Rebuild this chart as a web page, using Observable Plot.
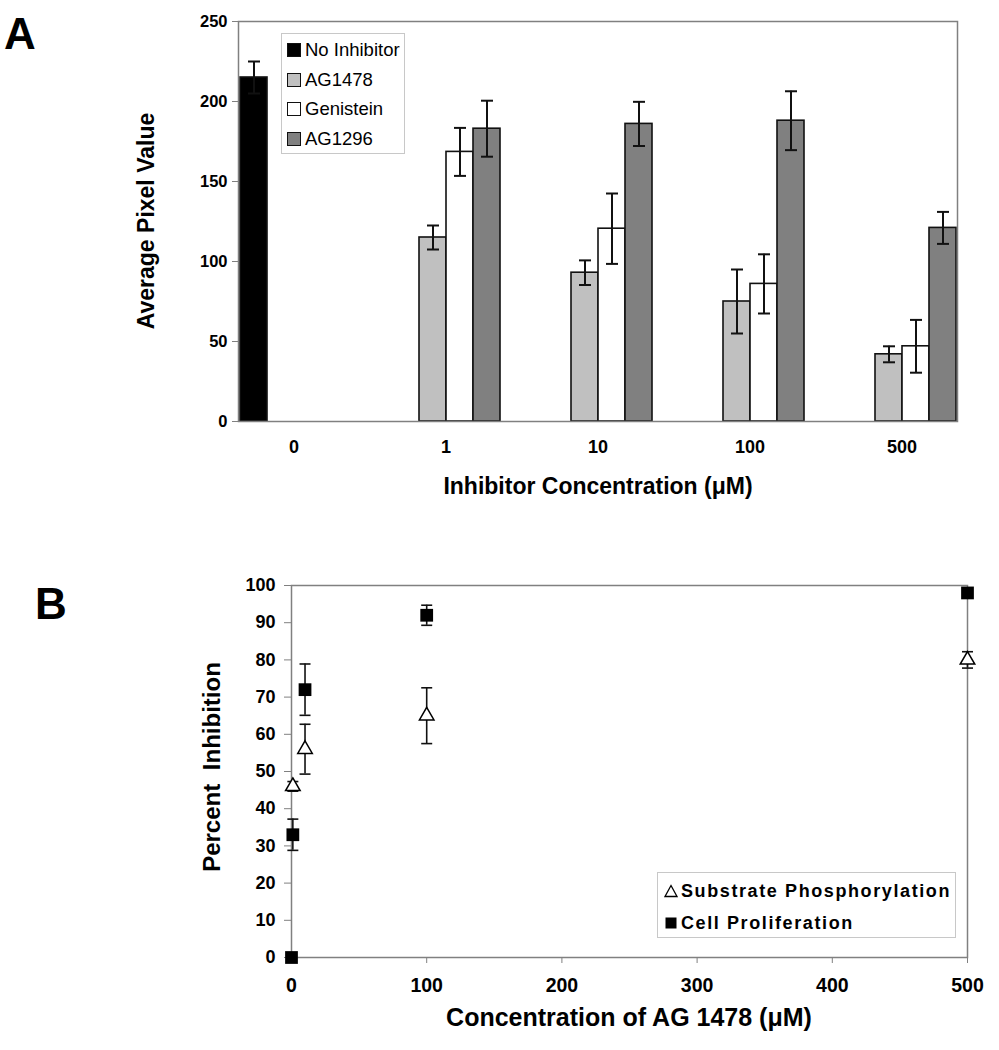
<!DOCTYPE html>
<html>
<head>
<meta charset="utf-8">
<script src="https://cdn.jsdelivr.net/npm/d3@7"></script>
<script src="https://cdn.jsdelivr.net/npm/@observablehq/plot@0.6"></script>
<style>
  body { margin: 0; background: #fff; }
  #page { position: relative; width: 999px; height: 1050px; background: #fff; font-family: "Liberation Sans", Arial, sans-serif; color: #000; }
  .abs { position: absolute; white-space: nowrap; }
  svg g[aria-label="y-axis tick"] path, svg g[aria-label="x-axis tick"] path { stroke: #808080; }
</style>
</head>
<body>
<div id="page">
  <div id="chartA" class="abs" style="left:0;top:0"></div>
  <div id="chartB" class="abs" style="left:0;top:520px"></div>

  <div class="abs" style="left:4px;top:9px;font-size:44px;font-weight:bold;">A</div>
  <div class="abs" style="left:35px;top:579px;font-size:44px;font-weight:bold;">B</div>

  <div class="abs" style="left:146px;top:221px;transform:translate(-50%,-50%) rotate(-90deg);font-size:23px;font-weight:bold;">Average Pixel Value</div>
  <div class="abs" style="left:598px;top:486px;transform:translate(-50%,-50%);font-size:23px;font-weight:bold;">Inhibitor Concentration (μM)</div>

  <div class="abs" style="left:212px;top:767px;transform:translate(-50%,-50%) rotate(-90deg);font-size:24px;font-weight:bold;word-spacing:7px;">Percent Inhibition</div>
  <div class="abs" style="left:629px;top:1017px;transform:translate(-50%,-50%);font-size:25px;font-weight:bold;">Concentration of AG 1478 (μM)</div>

  <div id="legendA" class="abs" style="left:281px;top:33px;width:122px;height:119px;border:1px solid #c8c8c8;background:#fff;font-size:18.5px;"></div>
  <div id="legendB" class="abs" style="left:657px;top:872px;width:297px;height:64px;border:1px solid #c8c8c8;background:#fff;font-size:18px;font-weight:bold;letter-spacing:1.6px;"></div>
</div>
<script>
// ---------- Panel A data ----------
const concentrations = ["0", "1", "10", "100", "500"];
const seriesNames = ["No Inhibitor", "AG1478", "Genistein", "AG1296"];
const seriesColors = ["#000000", "#c0c0c0", "#ffffff", "#808080"];
const noInhibitor = [215, null, null, null, null];
const noInhibitorErr = [10, null, null, null, null];
const ag1478 = [null, 115, 93, 75, 42];
const ag1478Err = [null, 7.5, 7.7, 20, 5];
const genistein = [null, 168.5, 120.5, 86, 47];
const genisteinErr = [null, 15, 22, 18.5, 16.5];
const ag1296 = [null, 183, 186, 188, 121];
const ag1296Err = [null, 17.5, 13.8, 18.4, 10];
const yTicksA = [0, 50, 100, 150, 200, 250];

// ---------- Panel B data ----------
const concB = [0, 1, 10, 100, 500];
const proliferation = [0, 33, 72, 92, 98];
const proliferationErr = [0, 4.2, 6.9, 2.7, 0.5];
const phosphorylation = [null, 46, 56, 65, 80];
const phosphorylationErr = [null, 1.3, 6.7, 7.5, 2.2];
const xTicksB = [0, 100, 200, 300, 400, 500];
const yTicksB = [0, 10, 20, 30, 40, 50, 60, 70, 80, 90, 100];

// ---------- build tables ----------
const seriesValues = [noInhibitor, ag1478, genistein, ag1296];
const seriesErrs = [noInhibitorErr, ag1478Err, genisteinErr, ag1296Err];
const rowsA = [];
seriesNames.forEach((s, k) => {
  concentrations.forEach((c, i) => {
    const v = seriesValues[k][i];
    if (v != null) rowsA.push({conc: c, series: s, value: v, err: seriesErrs[k][i]});
  });
});

const rowsB = [];
concB.forEach((c, i) => {
  rowsB.push({conc: c, type: "Cell Proliferation", value: proliferation[i], err: proliferationErr[i]});
  if (phosphorylation[i] != null) rowsB.push({conc: c, type: "Substrate Phosphorylation", value: phosphorylation[i], err: phosphorylationErr[i]});
});
const rowsBTri = rowsB.filter(d => d.type === "Substrate Phosphorylation");
const rowsBSq = rowsB.filter(d => d.type === "Cell Proliferation");

// horizontal cap symbol for error bars
const capSymbol = {
  draw(ctx, size) {
    const r = Math.sqrt(size / Math.PI);
    ctx.moveTo(-r, 0);
    ctx.lineTo(r, 0);
  }
};

const fontFam = "'Liberation Sans', Arial, sans-serif";

// ---------- Panel A ----------
const chartA = Plot.plot({
  width: 999,
  height: 510,
  marginLeft: 216,
  marginRight: 19,
  marginTop: 21,
  marginBottom: 89,
  style: {fontFamily: fontFam, background: "transparent", overflow: "visible"},
  fx: {domain: concentrations, paddingInner: 0.267, paddingOuter: 0.1335, label: null},
  x: {domain: seriesNames, padding: 0, axis: null},
  y: {domain: [0, 250], label: null},
  color: {domain: seriesNames, range: seriesColors},
  marks: [
    Plot.axisY({ticks: yTicksA, tickSize: 6, tickPadding: 5, fontSize: 16.5, fontWeight: "bold", label: null}),
    Plot.axisFx({anchor: "bottom", tickSize: 0, tickPadding: 19, fontSize: 18, fontWeight: "bold", label: null}),
    Plot.barY(rowsA, {fx: "conc", x: "series", y: "value", fill: "series", stroke: "#111", strokeWidth: 1.6}),
    Plot.ruleX(rowsA, {fx: "conc", x: "series", y1: d => d.value - d.err, y2: d => d.value + d.err, stroke: "#111", strokeWidth: 2}),
    Plot.dot(rowsA, {fx: "conc", x: "series", y: d => d.value + d.err, symbol: capSymbol, r: 6, stroke: "#111", strokeWidth: 2}),
    Plot.dot(rowsA, {fx: "conc", x: "series", y: d => d.value - d.err, symbol: capSymbol, r: 6, stroke: "#111", strokeWidth: 2}),
    Plot.frame({facet: "super", stroke: "#808080", strokeWidth: 1.5})
  ]
});
document.getElementById("chartA").appendChild(chartA);

// ---------- Panel B ----------
const chartB = Plot.plot({
  width: 999,
  height: 530,
  marginLeft: 291,
  marginRight: 32,
  marginTop: 65,
  marginBottom: 93,
  style: {fontFamily: fontFam, background: "transparent", overflow: "visible"},
  x: {domain: [0, 500], label: null},
  y: {domain: [0, 100], label: null},
  marks: [
    Plot.axisY({ticks: yTicksB, tickSize: 7, tickPadding: 9, fontSize: 18, fontWeight: "bold", label: null}),
    Plot.axisX({ticks: xTicksB, tickSize: 6, tickPadding: 15, fontSize: 19.5, fontWeight: "bold", label: null}),
    Plot.frame({stroke: "#808080", strokeWidth: 1.5}),
    Plot.ruleX(rowsB, {x: "conc", y1: d => d.value - d.err, y2: d => d.value + d.err, stroke: "#111", strokeWidth: 1.6}),
    Plot.dot(rowsB, {x: "conc", y: d => d.value + d.err, symbol: capSymbol, r: 5.5, stroke: "#111", strokeWidth: 1.6}),
    Plot.dot(rowsB, {x: "conc", y: d => d.value - d.err, symbol: capSymbol, r: 5.5, stroke: "#111", strokeWidth: 1.6}),
    Plot.dot(rowsBSq, {x: "conc", y: "value", symbol: "square", r: 7.2, fill: "#000", stroke: "none"}),
    Plot.dot(rowsBTri, {x: "conc", y: "value", symbol: "triangle", r: 5.4, fill: "#fff", stroke: "#000", strokeWidth: 1.5})
  ]
});
document.getElementById("chartB").appendChild(chartB);

// ---------- Legend A ----------
const legA = document.getElementById("legendA");
seriesNames.forEach((s, k) => {
  const row = document.createElement("div");
  row.style.cssText = "position:absolute;left:5px;top:" + (5 + k * 29.7) + "px;height:22px;display:flex;align-items:center;";
  const sw = document.createElement("span");
  sw.style.cssText = "display:inline-block;width:12px;height:12px;border:1px solid #111;margin-right:4px;background:" + seriesColors[k];
  const tx = document.createElement("span");
  tx.textContent = s;
  row.appendChild(sw); row.appendChild(tx);
  legA.appendChild(row);
});

// ---------- Legend B ----------
const legB = document.getElementById("legendB");
const legItemsB = [
  {label: "Substrate Phosphorylation", svg: '<svg width="14" height="14"><path d="M7,1.5 L13,12.5 L1,12.5 Z" fill="#fff" stroke="#000" stroke-width="1.3"/></svg>'},
  {label: "Cell Proliferation", svg: '<svg width="14" height="14"><rect x="1.5" y="1.5" width="11" height="11" fill="#000"/></svg>'}
];
legItemsB.forEach((it, k) => {
  const row = document.createElement("div");
  row.style.cssText = "position:absolute;left:6px;top:" + (7 + k * 32) + "px;height:22px;display:flex;align-items:center;";
  row.innerHTML = '<span style="display:inline-flex;margin-right:3px">' + it.svg + '</span><span>' + it.label + '</span>';
  legB.appendChild(row);
});
</script>
</body>
</html>
